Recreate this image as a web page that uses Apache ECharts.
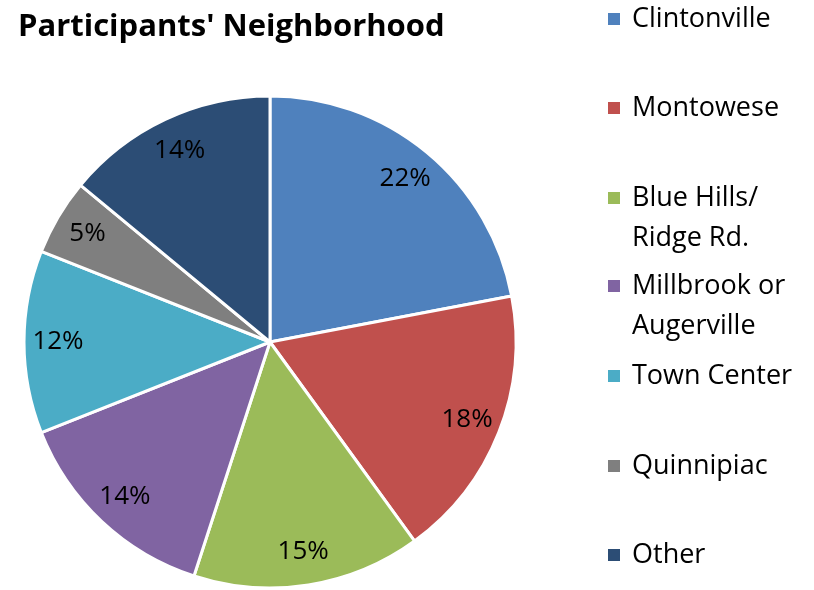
<!DOCTYPE html>
<html>
<head>
<meta charset="utf-8">
<script src="https://cdn.jsdelivr.net/npm/echarts@6/dist/echarts.min.js"></script>
<style>html,body{margin:0;padding:0;background:#fff}#c{width:814px;height:590px}</style>
</head>
<body>
<div id="c"></div>
<script>
var categories = ['Clintonville', 'Montowese', 'Blue Hills/\nRidge Rd.', 'Millbrook or\nAugerville', 'Town Center', 'Quinnipiac', 'Other'];
var values = [22, 18, 15, 14, 12, 5, 14];
var colors = ['#4F81BD', '#C0504D', '#9BBB59', '#8064A2', '#4BACC6', '#7F7F7F', '#2C4D75'];
var legendCenters = [19, 108, 198, 286, 376, 466, 555];

var FONT = 'Open Sans';
var data = categories.map(function (c, i) {
  return { name: c, value: values[i], itemStyle: { color: colors[i] } };
});

var legends = categories.map(function (c, i) {
  var multi = c.indexOf('\n') >= 0;
  return {
    orient: 'vertical',
    left: 606,
    padding: 0,
    top: multi ? legendCenters[i] - 60 : legendCenters[i] - 15,
    icon: 'rect',
    itemWidth: 14,
    itemHeight: 14,
    selectedMode: false,
    data: [c],
    formatter: multi ? function (n) { return '\n' + n; } : '{name}',
    textStyle: {
      fontFamily: FONT, fontSize: 27, color: '#000',
      lineHeight: multi ? 40 : 30, padding: [0, 0, 0, 6]
    }
  };
});

var chart = echarts.init(document.getElementById('c'), null, { renderer: 'canvas' });
chart.setOption({
  animation: false,
  title: {
    text: "Participants' Neighborhood",
    left: 13, top: 7,
    textStyle: { fontFamily: FONT, fontWeight: 'bold', fontSize: 31, color: '#000' }
  },
  legend: legends,
  series: [{
    type: 'pie',
    center: [270, 342],
    radius: [0, 246],
    startAngle: 90,
    clockwise: true,
    silent: true,
    data: data,
    itemStyle: { borderColor: '#fff', borderWidth: 3 },
    label: { show: false },
    labelLine: { show: false }
  }, {
    type: 'pie',
    center: [270, 342],
    radius: [172, 246],
    startAngle: 90,
    clockwise: true,
    silent: true,
    data: data.map(function (d) { return { name: d.name, value: d.value, itemStyle: { color: 'rgba(0,0,0,0)' } }; }),
    itemStyle: { borderWidth: 0 },
    label: {
      show: true, position: 'inside',
      formatter: '{c}%',
      fontFamily: FONT, fontSize: 26, color: '#000'
    },
    labelLine: { show: false }
  }]
});
</script>
</body>
</html>
